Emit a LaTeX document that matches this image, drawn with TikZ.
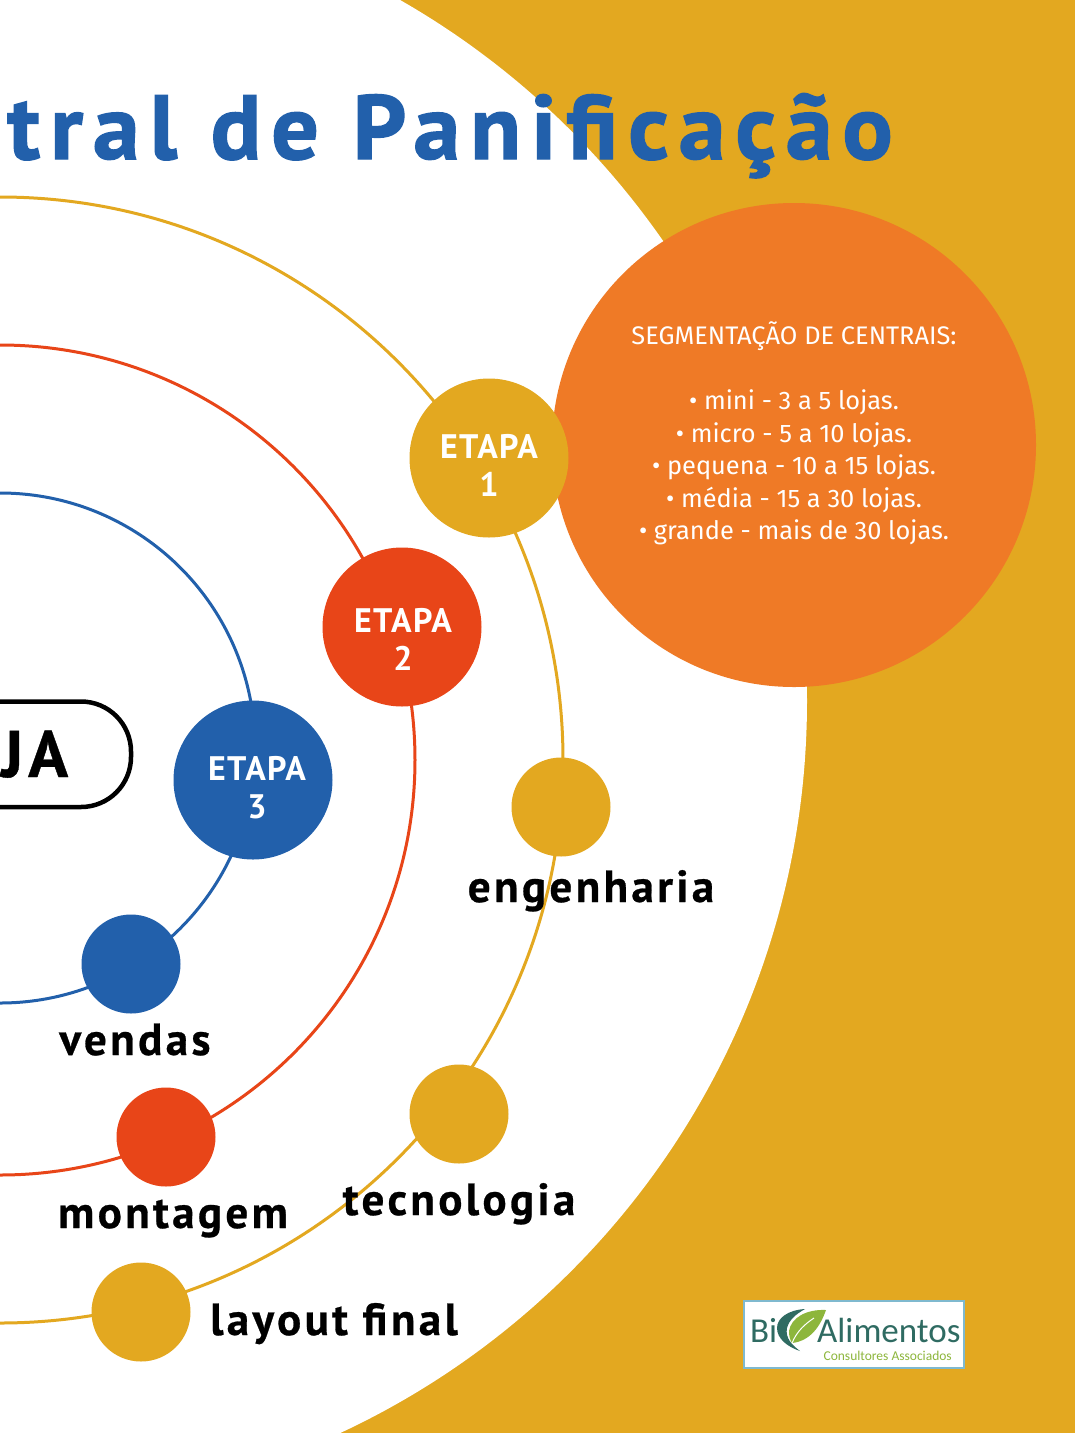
\documentclass[tikz,border=0pt]{standalone}
\usepackage{fontspec}
\setmainfont{Fira Sans}
\newfontfamily\titlefont[FakeStretch=1.03,LetterSpace=11,FakeBold=1.5]{PT Sans}
\newfontfamily\labelfont[LetterSpace=7.5,FakeBold=0.6]{PT Sans}
\newfontfamily\etapafont[LetterSpace=4]{PT Sans}
\newfontfamily\bodyfont{Fira Sans}
\newfontfamily\logofont{Carlito}
\definecolor{ouro}{HTML}{E3A820}
\definecolor{laranja}{HTML}{EF7A26}
\definecolor{azul}{HTML}{2260AB}
\definecolor{vermelho}{HTML}{E84518}
\definecolor{logogreen}{HTML}{2F6B62}
\definecolor{leafgreen}{HTML}{8DB63C}
\definecolor{logoedge}{HTML}{7FB9CF}
\tikzset{
  x=1pt,y=-1pt,
  ring/.style={line width=3pt,draw=#1},
  etapa/.style={circle,fill=#1,minimum size=159pt,inner sep=0pt,text=white,align=center,
    font=\etapafont\bfseries\fontsize{34}{38}\selectfont},
  dot/.style={circle,fill=#1,minimum size=99pt,inner sep=0pt},
  lbl/.style={font=\labelfont\bfseries\fontsize{45}{50}\selectfont,text=black,anchor=base,inner sep=0pt},
}
\begin{document}
\begin{tikzpicture}
\useasboundingbox (0,0) rectangle (1075,1433);
\clip (0,0) rectangle (1075,1433);
\fill[ouro] (0,0) rectangle (1075,1433);
\fill[white] (0,701) circle[radius=807];
% rings
\draw[ring=azul] (0,748) circle[radius=255];
\draw[ring=vermelho] (0,760) circle[radius=415];
\draw[ring=ouro] (0,760) circle[radius=563];
% title
\node[anchor=base east,inner sep=0pt,text=azul,font=\titlefont\bfseries\fontsize{91}{100}\selectfont] (title) at (893,159) {ntral de Panificação};
% orange circle
\node[circle,fill=laranja,minimum size=484pt,inner sep=0pt,text=white,align=center,
  font=\bodyfont\fontsize{25.4}{32.5}\selectfont] (seg) at (794,445)
  {SEGMENTAÇÃO DE CENTRAIS:\\[32.5pt]• mini - 3 a 5 lojas.\\• micro - 5 a 10 lojas.\\• pequena - 10 a 15 lojas.\\• média - 15 a 30 lojas.\\• grande - mais de 30 lojas.\\[-4pt]\mbox{}};
% steps
\node[etapa=ouro] (e1) at (489,458) {\rule{0pt}{39pt}ETAPA\\1};
\node[etapa=vermelho] (e2) at (402,627) {\rule{0pt}{49pt}\hspace*{2pt}ETAPA\\\hspace*{2pt}2};
\node[etapa=azul] (e3) at (253,780) {\rule{0pt}{39pt}\hspace*{8pt}ETAPA\\\hspace*{8pt}3};
% dots
\node[dot=ouro] (d1) at (561,807) {};
\node[dot=ouro] (d2) at (459,1114) {};
\node[dot=ouro] (d3) at (141,1312) {};
\node[dot=azul] (d4) at (131,964) {};
\node[dot=vermelho] (d5) at (166,1137) {};
% labels
\node[lbl] (l1) at (591,902) {engenharia};
\node[lbl] (l2) at (135,1055) {vendas};
\node[lbl] (l3) at (173,1228) {montagem};
\node[lbl] (l4) at (459,1215) {tecnologia};
\node[lbl] (l5) at (334,1335) {layout final};
% box
\draw[line width=4.5pt,black,rounded corners=50pt] (-120,701.5) -- (131,701.5) -- (131,807) -- (-120,807);
\node[anchor=base west,inner sep=0pt,text=black,font=\labelfont\bfseries\fontsize{66}{70}\selectfont] (ja) at (1,777) {JA};
% logo
\draw[fill=white,draw=logoedge,line width=2pt] (744,1301) rectangle (964,1368);
\node[anchor=base west,inner sep=0pt,text=logogreen,font=\logofont\fontsize{35}{35}\selectfont] (bi) at (750,1342) {Bi};
\node[anchor=base west,inner sep=0pt,text=logogreen,font=\logofont\fontsize{35}{35}\selectfont] (ali) at (817,1342) {Alimentos};
\node[anchor=base east,inner sep=0pt,text=leafgreen,font=\logofont\fontsize{13.5}{14}\selectfont] (cons) at (952,1360) {Consultores Associados};
\fill[logogreen] (805,1309) .. controls (788,1310) and (777,1318) .. (777,1328) .. controls (777,1339) and (788,1347) .. (800,1351) .. controls (792,1345) and (785,1338) .. (787,1328) .. controls (789,1320) and (796,1314) .. (805,1309) -- cycle;
\fill[leafgreen] (826,1310) .. controls (806,1309) and (791,1318) .. (789,1331) .. controls (789,1336) and (790,1340) .. (792,1343) .. controls (810,1341) and (820,1327) .. (826,1310) -- cycle;
\draw[white,line width=1pt] (792,1343) .. controls (797,1331) and (805,1324) .. (814,1318);
\end{tikzpicture}
\end{document}
